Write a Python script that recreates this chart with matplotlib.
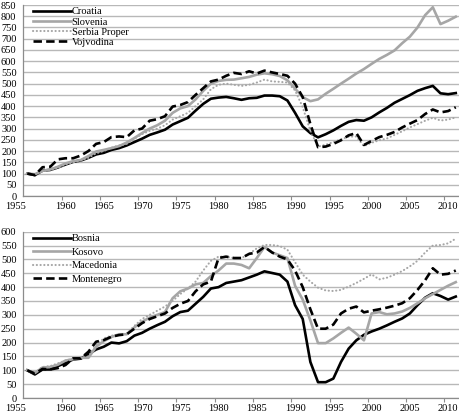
import numpy as np
import matplotlib
matplotlib.use("Agg")
import matplotlib.pyplot as plt
from matplotlib.ticker import MultipleLocator
from matplotlib.transforms import ScaledTranslation

plt.rcParams["font.family"] = ["Liberation Serif", "DejaVu Serif"]

# Data (index, 1955 = 100)
years = list(range(1955, 2012))

croatia = [100, 93, 113, 116, 127, 140, 152, 158, 170, 185,
           192, 205, 213, 225, 240, 255, 272, 283, 295, 318,
           333, 348, 380, 410, 433, 438, 441, 435, 428, 435,
           437, 447, 447, 444, 425, 370, 310, 280, 261, 275,
           292, 312, 330, 338, 335, 350, 372, 392, 415, 432,
           449, 468, 480, 490, 457, 453, 458]
slovenia = [100, 97, 112, 118, 130, 145, 155, 160, 178, 198,
            205, 213, 222, 238, 258, 280, 300, 315, 335, 370,
            390, 400, 430, 468, 500, 512, 517, 518, 524, 530,
            540, 546, 542, 534, 515, 478, 440, 422, 430, 455,
            477, 500, 522, 545, 565, 588, 610, 628, 648, 680,
            709, 750, 805, 840, 765, 780, 798]
serbia = [100, 95, 110, 115, 125, 140, 150, 158, 170, 190,
          200, 215, 225, 232, 255, 275, 290, 300, 315, 340,
          355, 370, 400, 430, 475, 495, 500, 495, 490, 495,
          505, 518, 510, 508, 505, 470, 395, 290, 220, 228,
          240, 252, 264, 265, 222, 237, 248, 256, 272, 288,
          305, 320, 335, 348, 336, 340, 350]
vojvodina = [100, 93, 128, 130, 163, 168, 168, 180, 200, 232,
             240, 262, 265, 262, 292, 300, 335, 342, 355, 398,
             405, 418, 450, 480, 510, 518, 535, 548, 543, 555,
             545, 558, 550, 543, 535, 500, 440, 320, 217, 220,
             232, 248, 270, 280, 227, 245, 262, 272, 285, 305,
             322, 338, 365, 385, 372, 378, 395]

bosnia = [100, 85, 103, 103, 115, 127, 139, 142, 158, 175,
          185, 200, 197, 205, 225, 235, 250, 263, 275, 295,
          310, 315, 340, 365, 395, 400, 415, 420, 425, 435,
          445, 457, 451, 445, 420, 335, 285, 130, 57, 57,
          70, 130, 178, 208, 228, 240, 250, 262, 275, 287,
          305, 335, 362, 378, 368, 355, 366]
kosovo = [100, 90, 110, 112, 120, 135, 140, 145, 145, 185,
          205, 220, 230, 230, 255, 275, 290, 300, 310, 360,
          385, 395, 410, 415, 440, 460, 485, 485, 480, 468,
          505, 545, 525, 515, 505, 405, 355, 280, 198, 198,
          215, 235, 254, 232, 208, 305, 310, 302, 305, 312,
          325, 342, 360, 375, 390, 405, 418]
macedonia = [100, 92, 112, 115, 125, 135, 142, 145, 150, 190,
             215, 225, 228, 232, 260, 285, 300, 315, 330, 350,
             375, 395, 420, 460, 495, 510, 510, 505, 505, 520,
             540, 552, 552, 548, 535, 490, 445, 420, 398, 388,
             386, 390, 402, 415, 430, 446, 428, 434, 445, 458,
             475, 495, 525, 550, 552, 558, 575]
montenegro = [100, 88, 105, 103, 108, 119, 143, 143, 167, 203,
              209, 221, 227, 230, 250, 270, 285, 295, 305, 325,
              340, 350, 385, 410, 420, 505, 510, 505, 505, 520,
              525, 545, 525, 510, 500, 460, 400, 320, 250, 250,
              265, 305, 322, 330, 309, 315, 320, 326, 333, 342,
              360, 390, 425, 468, 445, 448, 460]

GRAY = "#a6a6a6"
GRID = "#b8b8b8"

fig = plt.figure(figsize=(4.6, 4.13), dpi=100)
ax1 = fig.add_axes([23.4 / 460, 1 - 196 / 413, 436.2 / 460, 191 / 413])
ax2 = fig.add_axes([23.4 / 460, 1 - 398 / 413, 436.2 / 460, 166.3 / 413])

dash = (0, (3.2, 1.6))
dot = (0, (0.1, 1.7))

ax1.plot(years, croatia, color="black", lw=1.9, label="Croatia")
ax1.plot(years, slovenia, color=GRAY, lw=1.9, label="Slovenia")
ax1.plot(years, serbia, color=GRAY, lw=1.5, linestyle=dot,
         dash_capstyle="round", label="Serbia Proper")
ax1.plot(years, vojvodina, color="black", lw=1.9, linestyle=dash, label="Vojvodina")

ax2.plot(years, bosnia, color="black", lw=1.9, label="Bosnia")
ax2.plot(years, kosovo, color=GRAY, lw=1.9, label="Kosovo")
ax2.plot(years, macedonia, color=GRAY, lw=1.5, linestyle=dot,
         dash_capstyle="round", label="Macedonia")
ax2.plot(years, montenegro, color="black", lw=1.9, linestyle=dash, label="Montenegro")

for ax, ymax in [(ax1, 850), (ax2, 600)]:
    ax.set_xlim(1954.5, 2011.5)
    ax.set_ylim(0, ymax)
    ax.yaxis.set_major_locator(MultipleLocator(50))
    ax.set_xticks(range(1955, 2011, 5))
    ax.set_xticks(np.arange(1959.5, 2011, 5), minor=True)
    ax.grid(axis="y", color=GRID, lw=1.0)
    ax.set_axisbelow(True)
    for s in ["top", "right"]:
        ax.spines[s].set_visible(False)
    for s in ["left", "bottom"]:
        ax.spines[s].set_color("#8c8c8c")
        ax.spines[s].set_linewidth(0.9)
    ax.tick_params(axis="y", length=0, pad=5, labelsize=7.5)
    ax.tick_params(axis="x", which="major", length=0, pad=4, labelsize=7.5)
    ax.tick_params(axis="x", which="minor", length=3, color="#8c8c8c", width=0.8)
    # first year label sits a little left of its category, as in the source
    first = ax.xaxis.get_major_ticks()[0].label1
    first.set_transform(first.get_transform()
                        + ScaledTranslation(-12 / 100, 0, fig.dpi_scale_trans))

ax1.legend(loc="upper left", bbox_to_anchor=(33 / 460, 1 - 7 / 413),
           bbox_transform=fig.transFigure, frameon=False, fontsize=7.5,
           handlelength=3.6, handletextpad=0.1, borderpad=0,
           borderaxespad=0, labelspacing=0.09)
ax2.legend(loc="upper left", bbox_to_anchor=(33 / 460, 1 - 234 / 413),
           bbox_transform=fig.transFigure, frameon=False, fontsize=7.5,
           handlelength=3.6, handletextpad=0.1, borderpad=0,
           borderaxespad=0, labelspacing=0.4)

fig.savefig("out.png", dpi=100)
